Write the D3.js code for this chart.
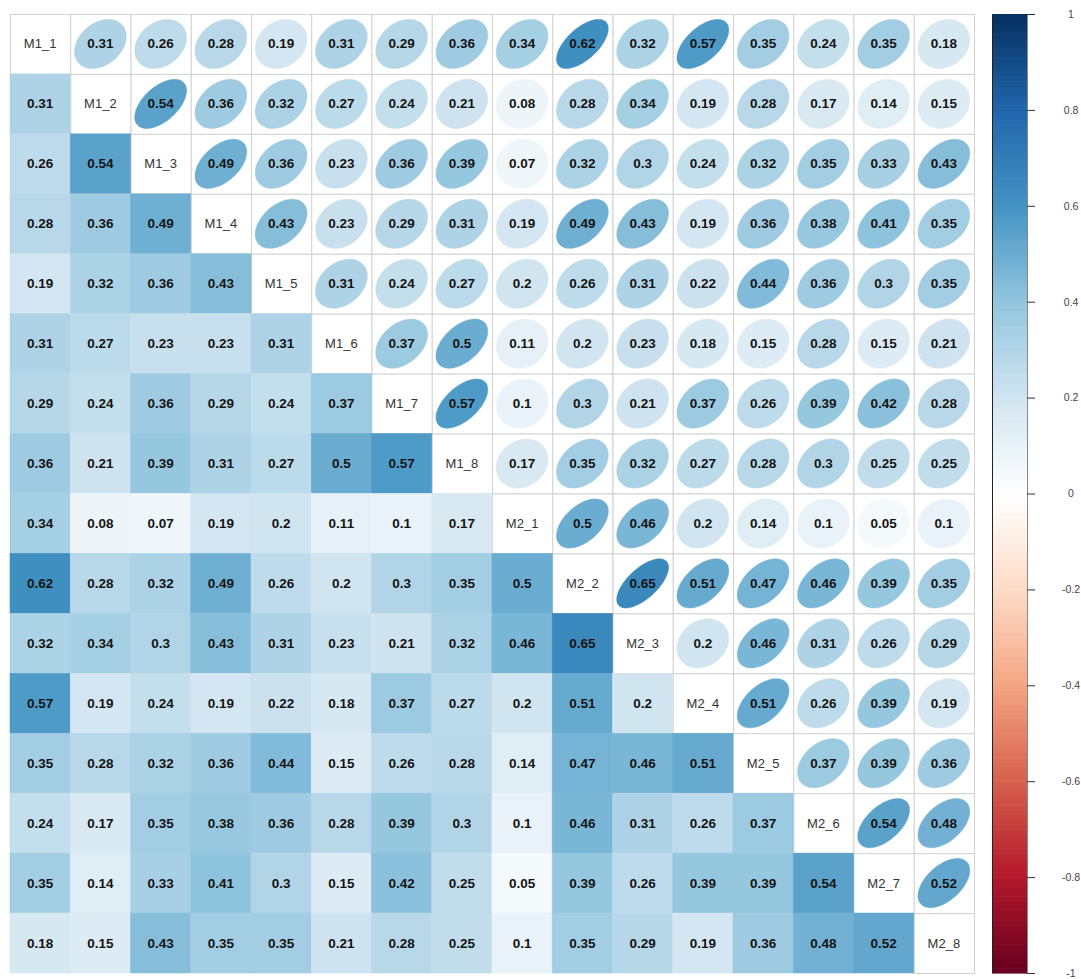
<!DOCTYPE html>
<html>
<head>
<meta charset="utf-8">
<script src="https://cdn.jsdelivr.net/npm/d3@7"></script>
<style>
  html, body { margin: 0; padding: 0; background: #fff; }
  svg { display: block; font-family: "Liberation Sans", Arial, sans-serif; }
</style>
</head>
<body>
<svg id="chart" width="1081" height="979"></svg>
<script>
// ---------------- data ----------------
const variables = ["M1_1","M1_2","M1_3","M1_4","M1_5","M1_6","M1_7","M1_8",
                   "M2_1","M2_2","M2_3","M2_4","M2_5","M2_6","M2_7","M2_8"];

const corrM1_1 = [1, .31,.26,.28,.19,.31,.29,.36,.34,.62,.32,.57,.35,.24,.35,.18];
const corrM1_2 = [.31,1,.54,.36,.32,.27,.24,.21,.08,.28,.34,.19,.28,.17,.14,.15];
const corrM1_3 = [.26,.54,1,.49,.36,.23,.36,.39,.07,.32,.3,.24,.32,.35,.33,.43];
const corrM1_4 = [.28,.36,.49,1,.43,.23,.29,.31,.19,.49,.43,.19,.36,.38,.41,.35];
const corrM1_5 = [.19,.32,.36,.43,1,.31,.24,.27,.2,.26,.31,.22,.44,.36,.3,.35];
const corrM1_6 = [.31,.27,.23,.23,.31,1,.37,.5,.11,.2,.23,.18,.15,.28,.15,.21];
const corrM1_7 = [.29,.24,.36,.29,.24,.37,1,.57,.1,.3,.21,.37,.26,.39,.42,.28];
const corrM1_8 = [.36,.21,.39,.31,.27,.5,.57,1,.17,.35,.32,.27,.28,.3,.25,.25];
const corrM2_1 = [.34,.08,.07,.19,.2,.11,.1,.17,1,.5,.46,.2,.14,.1,.05,.1];
const corrM2_2 = [.62,.28,.32,.49,.26,.2,.3,.35,.5,1,.65,.51,.47,.46,.39,.35];
const corrM2_3 = [.32,.34,.3,.43,.31,.23,.21,.32,.46,.65,1,.2,.46,.31,.26,.29];
const corrM2_4 = [.57,.19,.24,.19,.22,.18,.37,.27,.2,.51,.2,1,.51,.26,.39,.19];
const corrM2_5 = [.35,.28,.32,.36,.44,.15,.26,.28,.14,.47,.46,.51,1,.37,.39,.36];
const corrM2_6 = [.24,.17,.35,.38,.36,.28,.39,.3,.1,.46,.31,.26,.37,1,.54,.48];
const corrM2_7 = [.35,.14,.33,.41,.3,.15,.42,.25,.05,.39,.26,.39,.39,.54,1,.52];
const corrM2_8 = [.18,.15,.43,.35,.35,.21,.28,.25,.1,.35,.29,.19,.36,.48,.52,1];

const corrRows = [corrM1_1,corrM1_2,corrM1_3,corrM1_4,corrM1_5,corrM1_6,corrM1_7,corrM1_8,
                  corrM2_1,corrM2_2,corrM2_3,corrM2_4,corrM2_5,corrM2_6,corrM2_7,corrM2_8];

const paletteColors = ["#67001F","#B2182B","#D6604D","#F4A582","#FDDBC7","#FFFFFF",
                       "#D1E5F0","#92C5DE","#4393C3","#2166AC","#053061"];
const legendTicks = [1, 0.8, 0.6, 0.4, 0.2, 0, -0.2, -0.4, -0.6, -0.8, -1];
const legendTickLabels = ["1","0.8","0.6","0.4","0.2","0","-0.2","-0.4","-0.6","-0.8","-1"];

// ---------------- layout ----------------
const svg = d3.select("#chart");
const gridLeft = 10, gridRight = 974, gridTop = 14, gridBottom = 973;
const barLeft = 992, barRight = 1027;

const xScale = d3.scaleBand().domain(d3.range(variables.length)).range([gridLeft, gridRight]).padding(0);
const yScale = d3.scaleBand().domain(d3.range(variables.length)).range([gridTop, gridBottom]).padding(0);
const cw = xScale.bandwidth(), ch = yScale.bandwidth();

const color = d3.scaleLinear()
  .domain(d3.range(paletteColors.length).map(i => -1 + i * 2 / (paletteColors.length - 1)))
  .range(paletteColors)
  .interpolate(d3.interpolateRgb);

const cells = [];
corrRows.forEach((row, i) => row.forEach((v, j) => cells.push({i, j, v})));

const fmt = v => String(v);

// grid for upper triangle + diagonal
svg.append("g").selectAll("rect")
  .data(cells.filter(d => d.j >= d.i))
  .join("rect")
  .attr("x", d => xScale(d.j) + 0.5)
  .attr("y", d => yScale(d.i) + 0.5)
  .attr("width", cw)
  .attr("height", ch)
  .attr("fill", "#fff")
  .attr("stroke", "#d2d2d2")
  .attr("stroke-width", 1);

// lower triangle: full coloured squares
svg.append("g").selectAll("rect")
  .data(cells.filter(d => d.j < d.i))
  .join("rect")
  .attr("x", d => xScale(d.j))
  .attr("y", d => yScale(d.i))
  .attr("width", cw)
  .attr("height", ch)
  .attr("fill", d => color(d.v))
  .attr("stroke", d => color(d.v))
  .attr("stroke-width", 0.6);

// upper triangle: ellipses (corrplot ell.dat shape)
const ellLine = d3.line().curve(d3.curveLinearClosed);
const ellScaleX = 0.86, ellScaleY = 0.82;
function ellipsePath(d) {
  const a = Math.acos(d.v) / 2;
  const cx = xScale(d.j) + cw / 2, cy = yScale(d.i) + ch / 2;
  const pts = d3.range(0, 99).map(n => {
    const k = n / 99 * 2 * Math.PI;
    return [cx + ellScaleX * Math.cos(k + a) / 2 * cw, cy - ellScaleY * Math.cos(k - a) / 2 * ch];
  });
  return ellLine(pts);
}
svg.append("g").selectAll("path")
  .data(cells.filter(d => d.j > d.i))
  .join("path")
  .attr("d", ellipsePath)
  .attr("fill", d => color(d.v))
  .attr("stroke", d => color(d.v))
  .attr("stroke-width", 0.5);

// coefficient numbers
svg.append("g").selectAll("text")
  .data(cells.filter(d => d.j !== d.i))
  .join("text")
  .attr("x", d => xScale(d.j) + cw / 2)
  .attr("y", d => yScale(d.i) + ch / 2)
  .attr("text-anchor", "middle")
  .attr("dominant-baseline", "central")
  .attr("font-size", 13.5)
  .attr("font-weight", "bold")
  .attr("fill", "#141414")
  .text(d => fmt(d.v));

// diagonal labels
svg.append("g").selectAll("text")
  .data(variables)
  .join("text")
  .attr("x", (d, i) => xScale(i) + cw / 2)
  .attr("y", (d, i) => yScale(i) + ch / 2)
  .attr("text-anchor", "middle")
  .attr("dominant-baseline", "central")
  .attr("font-size", 13)
  .attr("fill", "#333")
  .text(d => d);

// ---------------- colour legend ----------------
const legendY = d3.scaleLinear().domain([1, -1]).range([gridTop, gridBottom]);
const nSteps = 200;
const stepH = legendY(-1) - legendY(-1 + 2 / nSteps);
const steps = d3.range(nSteps).map(n => -1 + (n + 0.5) * 2 / nSteps);
svg.append("g").selectAll("rect")
  .data(steps)
  .join("rect")
  .attr("x", barLeft)
  .attr("y", d => legendY(d + 1 / nSteps))
  .attr("width", barRight - barLeft)
  .attr("height", stepH + 0.6)
  .attr("fill", d => color(d));

svg.append("line")
  .attr("x1", barLeft + 0.5).attr("x2", barLeft + 0.5)
  .attr("y1", gridTop).attr("y2", gridBottom)
  .attr("stroke", "#222").attr("stroke-width", 1);

const axis = d3.axisRight(legendY)
  .tickValues(legendTicks)
  .tickSize(8)
  .tickSizeOuter(0)
  .tickFormat((d, i) => legendTickLabels[i]);
const axG = svg.append("g")
  .attr("transform", `translate(${barRight},0)`)
  .call(axis);
axG.select(".domain").attr("stroke", "#888");
axG.selectAll(".tick line").attr("stroke", "#333");
axG.selectAll(".tick text")
  .attr("x", 44)
  .attr("text-anchor", "middle")
  .attr("font-family", "Liberation Sans, Arial, sans-serif")
  .attr("font-size", 10.5)
  .attr("fill", "#444");
</script>
</body>
</html>
